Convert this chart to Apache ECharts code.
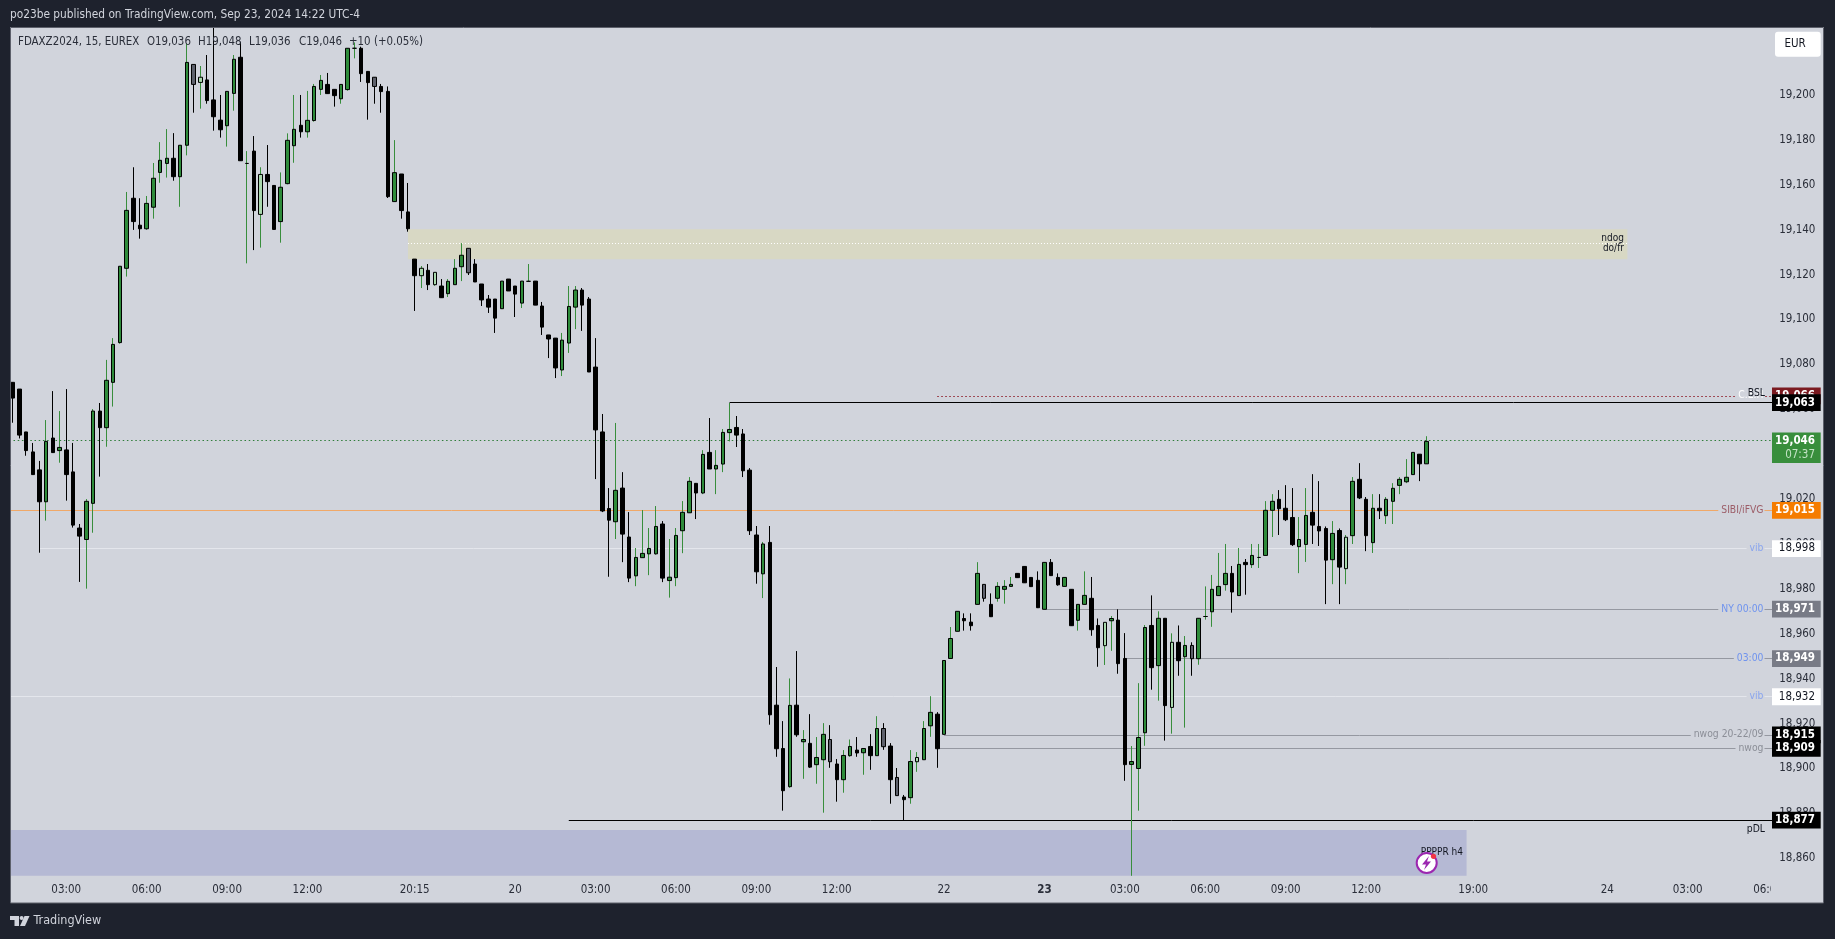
<!DOCTYPE html>
<html><head><meta charset="utf-8">
<style>html,body{margin:0;padding:0;background:#1e222d;overflow:hidden}#c{width:1835px;height:939px}</style>
<script src="https://cdn.jsdelivr.net/npm/echarts@6/dist/echarts.min.js"></script>
</head><body><div id="c"></div>
<script>
// Each row: open, close, low, high  (15-minute FDAX bars)
const sessionA = [
[19072,19065,19054,19072],[19069,19048.5,19047,19069],[19049.9,19041.6,19039.3,19049.9],[19041,19030.9,19030.9,19045],[19033,19018.8,18996.1,19037],
[19018.8,19045.7,19010.4,19055.2],[19047.2,19040.7,19040.7,19068.1],[19041.6,19043,19036.2,19059.2],[19041.9,19030.9,19019.3,19069],[19032.1,19008.4,19007.3,19045],
[19007.1,19003.5,18983.1,19008.9],[19002,19019,18980.1,19020],[19018.1,19059.2,19005,19060.1],[19059.2,19051.8,19030,19062.8],[19051.8,19072.9,19043.3,19082],
[19072,19088.9,19061.2,19091.7],[19089.7,19123.7,19089.2,19123.7],[19122.8,19148.6,19119.1,19156.8],[19154,19143.6,19139.9,19167.8],[19142,19140.4,19136,19154],
[19140.4,19151.7,19139.9,19155],[19150,19162.9,19144.9,19169.7],[19165.5,19170.9,19160.9,19179],[19169.5,19171.8,19163.2,19184.8],[19171.8,19163.6,19161.8,19183],
[19163.6,19177.6,19150.2,19177.6],[19177.6,19214.5,19173.1,19223],[19213.6,19204.7,19192.1,19213.6],[19205.6,19207.9,19193.9,19212.9],[19206.7,19197.5,19196.1,19217.8],
[19197.8,19190.3,19184.1,19232],[19188.8,19184.5,19181,19200],[19186.3,19201.6,19177,19201.6],[19200.7,19215.9,19193,19217.8],[19216.8,19170.7,19170.7,19223.7],
[19169.5,19169.5,19125,19175],[19175,19148.5,19130.9,19181.7],[19146.8,19164.6,19132,19167.8],[19164.6,19161.4,19150.2,19177.7],[19159.7,19140.1,19140.1,19159.7],
[19143.6,19158.9,19134.2,19165.5],[19160.5,19179.8,19160.2,19182.9],[19177.4,19184.7,19169.8,19200],[19186.5,19183.6,19181,19200],[19183.6,19188.7,19181,19201.8],
[19188.6,19203.8,19188.1,19204.9],[19202.5,19206.5,19200,19208.9],[19204.7,19200.6,19200.6,19209.8],[19202.5,19199.7,19194.8,19202.5],[19198.3,19204.7,19196.1,19204.7],
[19202.4,19220.8,19201.9,19220.8],[19220.8,19220.8,19216.3,19223.4],[19220.8,19209.5,19205.8,19221.5],[19210.5,19205.5,19189,19210.5],[19207.9,19203.8,19196.1,19207.9],
[19203.8,19201.5,19192.1,19204.9],[19201.6,19154.7,19154.1,19203.8],[19152.5,19165.4,19152.5,19179.9],[19164.8,19148.5,19144.9,19164.8],[19147.9,19140.4,19139.1,19160.8]
];
const sessionB = [
[19126.9,19119.5,19103.8,19126.9],[19119.5,19122.8,19114,19123.8],[19121.9,19115.5,19113.1,19124.7],[19115.5,19121,19115,19121],[19114.9,19109.7,19109.7,19118],
[19111.5,19117,19110,19118],[19115.5,19122.8,19115.5,19126.9],[19123.5,19128.6,19117.1,19134],[19131.7,19120.8,19119.8,19131.7],[19124.7,19116.7,19116.7,19126.9],
[19115.8,19108.7,19106,19115.8],[19109.1,19105.5,19102.9,19110.9],[19109.1,19100.6,19094,19109.1],[19104.8,19117.1,19104.8,19117.1],[19118,19112.7,19112.7,19118],
[19114.9,19111.3,19101.1,19114.9],[19107.3,19117.1,19105.1,19117.1],[19117,19117,19117,19124.7],[19117.1,19106.4,19106.4,19117.1],[19106,19096.6,19093.1,19107.8],
[19093.1,19091.3,19082.8,19093.1],[19091.7,19078.4,19073.9,19091.7],[19077.5,19090.8,19074.8,19094],[19089.5,19105.8,19085.1,19114.9],[19105.5,19113.1,19095.7,19114.9],
[19113.1,19106.4,19094.9,19114],[19109.1,19076.6,19076.6,19110],[19078.8,19050.8,19028.9,19091.7],[19049.9,19014.7,19014.2,19057.9],[19015.8,19010.6,18985.4,19024.9],
[19009.9,19023.9,19002.2,19053.9],[19024.9,19004.4,18991.9,19032],[19003.1,18984.8,18983,19014.2],[18985.8,18994,18981.2,18998.2],[18993.9,18995.8,18993.9,19015.1],
[18995.6,18998,18986.1,19007.1],[18995.6,19007.8,18995.2,19016.9],[19008.9,18984.8,18983,19010.2],[18983.7,18985.2,18976.1,19002.2],[18985,19003.8,18981.2,19007.1],
[19005.9,19014.1,18995.9,19019.1],[19013.9,19027.9,19013.9,19029.8],[19027,19022.7,19011.1,19027],[19022.7,19039.9,19022.2,19041.8],[19040.8,19033.4,19033.4,19056.1],
[19033.4,19035,19022.2,19041.8],[19035.6,19049.7,19032,19051.2],[19049.6,19051,19045.7,19062.8],[19051.9,19048.5,19043.2,19057],[19049,19032.6,19029.8,19051.2],
[19032.9,19005.9,19004,19033.8],[19004,18987.6,18982.3,19008],[18986.7,19000,18975.9,19000.9],[19000.7,18923.9,18919.5,19008],[18928.2,18908.8,18905.2,18945.2],
[18908.9,18890.1,18881.2,18921.1],[18891.9,18928.1,18891.4,18940.1],[18928.2,18915,18914.1,18952.3],[18911.9,18912.9,18895.4,18917.1],[18911.2,18900.6,18900.3,18924.2],
[18901.7,18904.9,18893.2,18914],[18903.9,18915.2,18880.3,18920.2],[18912.9,18903,18900.3,18919.3],[18902,18895,18885.2,18904.2],[18895,18905.8,18889.2,18908.2],
[18905.7,18909.8,18905.2,18912.9],[18908.2,18906.9,18905.2,18914],[18907,18908.9,18897.2,18908.9],[18909.8,18905.7,18899.4,18915.3],[18905.7,18917.8,18905.7,18923.3],
[18917.8,18909.7,18908.3,18920.2],[18910,18895,18884.3,18911.3],[18896,18887.9,18887.9,18900.2],[18887.3,18886.1,18877,18888.2],[18887,18903.1,18884.3,18908.2],
[18903,18904.9,18898.5,18907.3],[18903.9,18917.8,18903.9,18921.1],[18919,18925,18914.1,18932.2],[18924.2,18908.8,18900.3,18925.1]
];
const sessionC = [
[18915.2,18948.1,18915.2,18948.1],[18949,18957.9,18949,18963],[18961.1,18970,18961.1,18970],[18966.8,18965.8,18961.4,18969.1],[18965.2,18963.6,18961.4,18969.1],
[18973.1,18986.9,18973.1,18991.9],[18982,18975.8,18974.3,18982],[18973.1,18967.6,18967.6,18978],[18975.8,18981.1,18974.3,18983],[18979.8,18981.1,18973.4,18983.9],
[18981.1,18982,18981.1,18985.3],[18986.9,18985,18985,18986.9],[18990,18982.7,18982.7,18990],[18985.1,18981,18981,18985.1],[18983.8,18971.6,18971.6,18987.8],
[18970.9,18991.8,18970.9,18991.8],[18991.8,18985.9,18985.9,18993.3],[18985.1,18981.8,18981.4,18986.9],[18981.1,18985.1,18981.1,18985.1],[18979.8,18963.6,18963.6,18979.8],
[18966,18973.1,18961.4,18973.1],[18973.1,18977.1,18973.1,18987.8],[18975.8,18961.8,18959.1,18985.3],[18963.7,18953.8,18945.3,18966.8],[18954.7,18965.1,18946.1,18965.1],
[18965.8,18966.8,18952.4,18967.9],[18966.1,18946.7,18942.2,18970.9],[18949,18901.7,18894.5,18960.3],[18901.8,18903.1,18852.2,18910],[18900,18913.8,18881.2,18938],
[18915.9,18962.8,18910.1,18963.9],[18963.7,18944.9,18935.1,18977.1],[18945.8,18966.9,18930.2,18970],[18966.9,18928,18912.4,18966.9],[18927.2,18956.2,18915.5,18960.2],
[18956.2,18948,18941.3,18963.7],[18949.8,18954.8,18918.2,18959],[18954.8,18948.9,18941.3,18956.2],[18948.9,18966.9,18946.2,18966.9],[18967.7,18967.7,18966.3,18981.1],
[18969.8,18979.8,18963.1,18986.2],[18977,18981.1,18977,18996],[18981.9,18986.9,18979.2,19000],[18986.9,18978.6,18969.4,18990.2],[18977,18990.9,18977,18998.2],
[18991.8,18990.8,18977.4,18993.3],[18990.8,18994.9,18989.3,19000],[18994,18994,18989.3,19000],[18994.9,19015,18994.9,19019.1],[19015,19019,19003.1,19022.2],
[19019.9,19015.7,19004,19024],[19015.9,19010.8,19010.2,19026.2],[19011.8,18999.7,18999.1,19024.9],[18998.8,19002,18987,19012],[18999.8,19012.7,18992,19024.9],
[19014.1,19008.4,19000,19031.1],[19007.8,19005.8,18999.1,19028],[19006.9,18992.8,18973.2,19007.8],[18993,19004.7,18982.1,19010.2],[19006,18989.7,18973.2,19006.9],
[18989,19003,18982.1,19004],[19003.7,19027.9,19000,19029.8],[19028.8,19020.5,19020,19036],[19019.9,19003.7,18996.8,19020.9],[19000.6,19015.9,18996,19022.2],
[19015.9,19014.8,19011.1,19022.2],[19012.6,19019.9,19008.9,19020.9],[19019,19024.8,19008.9,19027.1],[19026.1,19028.8,19022.2,19029.8],[19027.7,19029.7,19027.1,19037.8],
[19030.9,19040.8,19030.9,19040.8],[19040,19035.7,19028,19040],[19035.7,19045.7,19035.7,19048]
];
const lightBars = [28,37,61,63,135,163,173,199];
const greyBars = [27,54,68,122,130,132,145,176];
const dojiBars = [35,51,77,178,186];

const slotCount = 264;
const tickSlots = [8,20,32,44,60,75,87,99,111,123,139,154,166,178,190,202,218,238,250,262];
const tickTexts = ['03:00','06:00','09:00','12:00','20:15','20','03:00','06:00','09:00','12:00','22','23','03:00','06:00','09:00','12:00','19:00','24','03:00','06:00'];
const priceTicks = [18860,18880,18900,18920,18940,18960,18980,19000,19020,19060,19080,19100,19120,19140,19160,19180,19200];

const zoneNdog = {top:19140.2, bottom:19126.8, mid:19133.9, from:59, to:241};
const zoneLow = {top:18872.6, bottom:18852.2, to:217};

// value, first slot (null = whole pane), colour, dash
const levelValues = [19066,19063,19046,19015,18998,18971,18949,18932,18915,18909,18877];
const levelStart  = [138,107,null,null,4,154,166,null,139,138,83];
const levelColors = ['#8f1f2b','#000000','#2f7d3a','#f0a868','#e4e6ec','#9598a1','#9598a1','#e4e6ec','#9598a1','#9598a1','#000000'];
const levelDash   = [[1.5,2.5],'solid',[1.5,2.7],'solid','solid','solid','solid','solid','solid','solid','solid'];
const levelNames  = ['C.E.H','','','SIBI/iFVG','vib','NY 00:00','03:00','vib','nwog 20-22/09','nwog',''];
const nameColors  = ['#ffffff','','','#9c5d68','#8aa5ee','#6f93ee','#6f93ee','#8aa5ee','#8b8e97','#8b8e97',''];
const tagFills    = ['#7b1a20','#000000','#388e3c','#f57c00','#ffffff','#787b86','#787b86','#ffffff','#000000','#000000','#000000'];
const tagInks     = ['#ffffff','#ffffff','#ffffff','#ffffff','#131722','#ffffff','#ffffff','#131722','#ffffff','#ffffff','#ffffff'];

const FONT = "'DejaVu Sans Condensed','DejaVu Sans',sans-serif";
const OUTER = '#1e222d', PANE = '#d1d4dc', INK = '#2a2e39';
const bars = sessionA.concat(sessionB, sessionC);
const fmt = v => Number(v).toLocaleString('en-US');

const categories = new Array(slotCount).fill('');
tickSlots.forEach((s, i) => { categories[s] = tickTexts[i]; });

function uniform(st){ return {color:st.fill,color0:st.fill,borderColor:st.line,borderColor0:st.line,borderColorDoji:st.line}; }
function look(i){
  const b = bars[i], up = b[1] > b[0];
  if (dojiBars.includes(i)) return {fill:'#000000', wick:'#388e3c'};
  if (lightBars.includes(i)) return {fill:'#a9d8ad', wick:'#388e3c'};
  if (greyBars.includes(i)) return {fill:'#5d606b', wick:'#000000'};
  return up ? {fill:'#2e8b3a', wick:'#388e3c'} : {fill:'#000000', wick:'#000000'};
}
const wickData = bars.map((b,i)=>({value:b, itemStyle:uniform({fill:look(i).wick, line:look(i).wick})}));
const bodyData = bars.map((b,i)=>({value:[b[0],b[1],Math.min(b[0],b[1]),Math.max(b[0],b[1])], itemStyle:uniform({fill:look(i).fill, line:'#000000'})}));

const levelLines = levelValues.map((v,i)=>{
  const ls = {color:levelColors[i], width:1, type:levelDash[i]};
  if (levelStart[i] === null) return {yAxis:v, lineStyle:ls};
  return [{xAxis:levelStart[i], yAxis:v, lineStyle:ls},{xAxis:slotCount-1, yAxis:v}];
});
levelLines.push([{xAxis:zoneNdog.from,yAxis:zoneNdog.mid,lineStyle:{color:'#ffffff',width:1.2,type:[1,2]}},{xAxis:zoneNdog.to,yAxis:zoneNdog.mid}]);

const chart = echarts.init(document.getElementById('c'), null, {renderer:'canvas'});
chart.setOption({
  animation:false,
  backgroundColor:PANE,
  grid:{left:9.32, top:28, width:1768.8, height:849, containLabel:false},
  tooltip:{show:false},
  xAxis:{type:'category', data:categories, boundaryGap:true,
    axisLine:{show:false}, axisTick:{show:false}, splitLine:{show:false},
    axisLabel:{interval:0, hideOverlap:false, margin:7, color:INK, fontFamily:FONT, fontSize:11.5,
      formatter:v => v === '23' ? '{b|23}' : v,
      rich:{b:{fontWeight:'bold', color:INK, fontFamily:FONT, fontSize:11.5}}}},
  yAxis:{type:'value', position:'right', min:18851.66, max:19229.83, scale:true,
    axisLine:{show:false}, axisTick:{show:false}, splitLine:{show:false},
    axisLabel:{customValues:priceTicks, align:'right', margin:37.3, color:INK, fontFamily:FONT, fontSize:11.5, formatter:fmt}},
  series:[
    {type:'candlestick', name:'wicks', data:wickData, barWidth:1, z:2, silent:true,
      markArea:{silent:true, z:1, label:{show:false}, data:[
        [{xAxis:zoneNdog.from,yAxis:zoneNdog.top,itemStyle:{color:'#d8d8c4'}},{xAxis:zoneNdog.to,yAxis:zoneNdog.bottom}],
        [{yAxis:zoneLow.top,itemStyle:{color:'#b5b9d4'}},{xAxis:zoneLow.to,yAxis:zoneLow.bottom}]
      ]},
      markLine:{silent:true, z:1, symbol:'none', label:{show:false}, animation:false, data:levelLines}
    },
    {type:'candlestick', name:'bodies', data:bodyData, barWidth:4, z:3, silent:true}
  ]
});

const y = v => chart.convertToPixel({yAxisIndex:0}, v);
function txt(x, yy, text, o={}){
  return {type:'text', x, y:yy, z:o.z||60, silent:true,
    style:Object.assign({text, fill:o.fill||INK, font:(o.weight?o.weight+' ':'')+(o.size||12)+'px '+FONT,
      textAlign:o.align||'left', textVerticalAlign:'middle'}, o.bg?{backgroundColor:o.bg,padding:o.pad||[0,2]}:{})};
}
function box(x,yy,w,h,fill,z){ return {type:'rect', z:z||50, silent:true, shape:{x,y:yy,width:w,height:h}, style:{fill}}; }

const g = [];
// level names
levelValues.forEach((v,i)=>{ if(levelNames[i]) g.push(txt(1764.5, y(v), levelNames[i], {align:'right', fill:nameColors[i], bg:PANE, size:10.3, z:40, pad:[0,1,0,3]})); });
g.push(txt(1765, y(19066)-2, 'BSL', {align:'right', fill:'#131722', size:10.3, z:41}));
g.push(txt(1765, y(18877)+9, 'pDL', {align:'right', fill:'#131722', size:10.3, z:41}));
// zone texts
g.push(txt(1624, y(zoneNdog.mid)-4.6, 'ndog', {align:'right', fill:'#131722', size:10, z:41}));
g.push(txt(1624, y(zoneNdog.mid)+5.4, 'do/fr', {align:'right', fill:'#131722', size:10, z:41}));
g.push(txt(1463, 852, 'PPPPR h4', {align:'right', fill:'#131722', size:10, z:41}));
// alert icon
g.push({type:'circle', z:42, silent:true, shape:{cx:1426.7,cy:863,r:10}, style:{fill:'#ffffff', stroke:'#9c27b0', lineWidth:2}});
g.push({type:'polygon', z:43, silent:true, shape:{points:[[1429,856],[1422,864.5],[1426,864.5],[1424,870],[1431,861.5],[1427,861.5]]}, style:{fill:'#9c27b0'}});
g.push({type:'circle', z:44, silent:true, shape:{cx:1433.5,cy:856.3,r:2.6}, style:{fill:'#f23645'}});
// cover the slot label past the time axis edge
g.push(box(1771,877,53,26,PANE,45));
// price tags
levelValues.forEach((v,i)=>{
  const c = y(v), two = v === 19046;
  g.push(box(1772, c-8.3, 48.7, two ? 30.5 : 16.8, tagFills[i], 50+i));
  g.push(txt(1815, c, fmt(v), {align:'right', fill:tagInks[i], size:11.5, weight:(tagFills[i]==='#ffffff'?'':'bold'), z:51+i}));
  if (two) g.push(txt(1815, c+14.5, '07:37', {align:'right', fill:'#c3e3c5', size:11.5, z:51+i}));
});
// EUR button
g.push({type:'rect', z:60, silent:true, shape:{x:1775,y:31.7,width:45.7,height:25,r:3}, style:{fill:'#ffffff'}});
g.push(txt(1784.5, 44.5, 'EUR', {size:11.5, fill:'#131722', z:61}));
// frame
g.push(box(0,0,1835,27,OUTER,70), box(0,903,1835,36,OUTER,70), box(0,0,10,939,OUTER,70), box(1824,0,11,939,OUTER,70));
g.push({type:'rect', z:71, silent:true, shape:{x:10.5,y:27.5,width:1813,height:875.5}, style:{fill:'none', stroke:'#5d606b', lineWidth:1}});
// header and legend
g.push(txt(10, 15, 'po23be published on TradingView.com, Sep 23, 2024 14:22 UTC-4', {fill:'#d1d4dc', size:11.8, z:72}));
[[18,'FDAXZ2024, 15, EUREX'],[147,'O19,036'],[198,'H19,048'],[249,'L19,036'],[299,'C19,046'],[349,'+10 (+0.05%)']].forEach(p=>g.push(txt(p[0], 42, p[1], {size:11.4, fill:'#2a2e39', z:65})));
// TradingView mark
g.push(box(10,916,9,4,'#d1d4dc',72), box(14.5,916,4.5,10,'#d1d4dc',72));
g.push({type:'circle', z:72, silent:true, shape:{cx:21.6,cy:918,r:2}, style:{fill:'#d1d4dc'}});
g.push({type:'polygon', z:72, silent:true, shape:{points:[[24.5,916],[29.5,916],[25,926],[20,926]]}, style:{fill:'#d1d4dc'}});
g.push(txt(33.5, 921, 'TradingView', {fill:'#d1d4dc', size:12.5, z:72}));
chart.setOption({graphic:{elements:g}});
</script></body></html>
